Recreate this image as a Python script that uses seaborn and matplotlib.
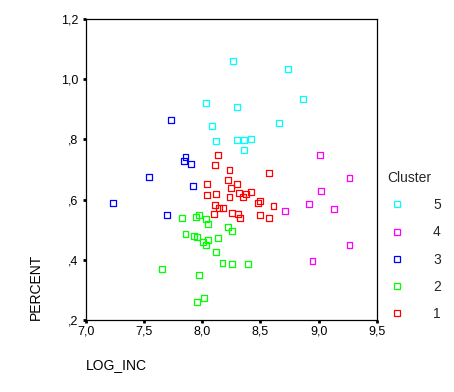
import pandas as pd
import seaborn as sns
import matplotlib.pyplot as plt
from matplotlib.lines import Line2D
from matplotlib.ticker import FuncFormatter

# Values, one pair of arrays per cluster
c1_x = [8.134, 8.111, 8.234, 8.572, 8.223, 8.040, 8.297, 8.246, 8.317, 8.418,
        8.380, 8.122, 8.040, 8.234, 8.354, 8.500, 8.480, 8.111, 8.612, 8.145,
        8.182, 8.100, 8.254, 8.306, 8.500, 8.326, 8.572]
c1_y = [0.748, 0.715, 0.698, 0.688, 0.665, 0.652, 0.652, 0.639, 0.622, 0.626,
        0.619, 0.619, 0.615, 0.609, 0.609, 0.595, 0.589, 0.582, 0.579, 0.572,
        0.572, 0.552, 0.555, 0.552, 0.549, 0.539, 0.539]

c2_x = [7.827, 7.971, 7.945, 8.031, 8.051, 8.223, 8.254, 7.856, 7.928, 7.959,
        8.134, 8.051, 8.010, 8.031, 8.122, 8.174, 8.254, 8.397, 7.653, 7.971,
        8.019, 7.959]
c2_y = [0.539, 0.549, 0.542, 0.536, 0.519, 0.509, 0.496, 0.486, 0.479, 0.476,
        0.472, 0.466, 0.459, 0.449, 0.426, 0.389, 0.386, 0.386, 0.369, 0.350,
        0.273, 0.260]

c3_x = [7.735, 7.856, 7.847, 7.907, 7.541, 7.919, 7.232, 7.696]
c3_y = [0.864, 0.742, 0.728, 0.718, 0.675, 0.645, 0.589, 0.549]

c4_x = [9.010, 9.265, 9.019, 8.916, 9.131, 8.712, 9.265, 8.947]
c4_y = [0.748, 0.672, 0.629, 0.585, 0.569, 0.562, 0.449, 0.396]

c5_x = [8.265, 8.735, 8.867, 8.031, 8.297, 8.085, 8.663, 8.122, 8.297, 8.357,
        8.418, 8.357]
c5_y = [1.060, 1.034, 0.934, 0.921, 0.908, 0.845, 0.855, 0.795, 0.798, 0.798,
        0.801, 0.765]

x_ticks = [7.0, 7.5, 8.0, 8.5, 9.0, 9.5]
y_ticks = [0.2, 0.4, 0.6, 0.8, 1.0, 1.2]

colors = {1: '#ff0000', 2: '#00ff00', 3: '#0000ff', 4: '#ff00ff', 5: '#00ffff'}

parts = []
for k, (xs, ys) in enumerate([(c1_x, c1_y), (c2_x, c2_y), (c3_x, c3_y),
                              (c4_x, c4_y), (c5_x, c5_y)], start=1):
    parts.append(pd.DataFrame({'LOG_INC': xs, 'PERCENT': ys, 'Cluster': k}))
df = pd.concat(parts, ignore_index=True)

sns.set_style('white')
plt.rcParams['font.family'] = ['Liberation Sans', 'DejaVu Sans']

fig = plt.figure(figsize=(4.54, 3.92), dpi=100)
ax = fig.add_axes([0.189, 0.184, 0.641, 0.767])

sns.scatterplot(data=df, x='LOG_INC', y='PERCENT', hue='Cluster',
                palette=colors, marker='s', s=18, linewidth=0.9,
                legend=False, ax=ax)

# hollow squares: move the hue colour onto the edge
pts = ax.collections[0]
pts.set_edgecolors(pts.get_facecolors())
pts.set_facecolors('none')

ax.set_xlim(7.0, 9.5)
ax.set_ylim(0.2, 1.2)
ax.set_xticks(x_ticks)
ax.set_yticks(y_ticks)


def comma_fmt(v, pos):
    s = f'{v:.1f}'.replace('.', ',')
    if s.startswith('0'):
        s = s[1:]
    return s


ax.xaxis.set_major_formatter(FuncFormatter(comma_fmt))
ax.yaxis.set_major_formatter(FuncFormatter(comma_fmt))

for sp in ax.spines.values():
    sp.set_visible(True)
    sp.set_color('black')
    sp.set_linewidth(0.9)

ax.tick_params(axis='both', which='major', direction='out', length=2.4,
               width=2, color='black', labelsize=9, labelcolor='black',
               bottom=True, left=True)
ax.tick_params(axis='x', pad=1.5)
ax.tick_params(axis='y', pad=3.2)

ax.set_xlabel('LOG_INC', loc='left', fontsize=10, color='black')
ax.xaxis.set_label_coords(0.0, -0.126)
ax.set_ylabel('PERCENT', loc='bottom', fontsize=10, color='black')
ax.yaxis.set_label_coords(-0.147, 0.0)

handles = [Line2D([], [], linestyle='none', marker='s', markersize=4.3,
                  markerfacecolor='none', markeredgecolor=colors[k],
                  markeredgewidth=0.9, label=str(k))
           for k in [5, 4, 3, 2, 1]]
leg = ax.legend(handles=handles, title='Cluster', frameon=False,
                loc='upper left', bbox_to_anchor=(387 / 454, 1 - 171 / 392),
                bbox_transform=fig.transFigure, fontsize=10,
                title_fontsize=10, handlelength=1.44, handletextpad=1.87,
                labelspacing=0.95, borderpad=0, borderaxespad=0)
leg._legend_box.align = 'left'

fig.savefig('out.png', dpi=100)
